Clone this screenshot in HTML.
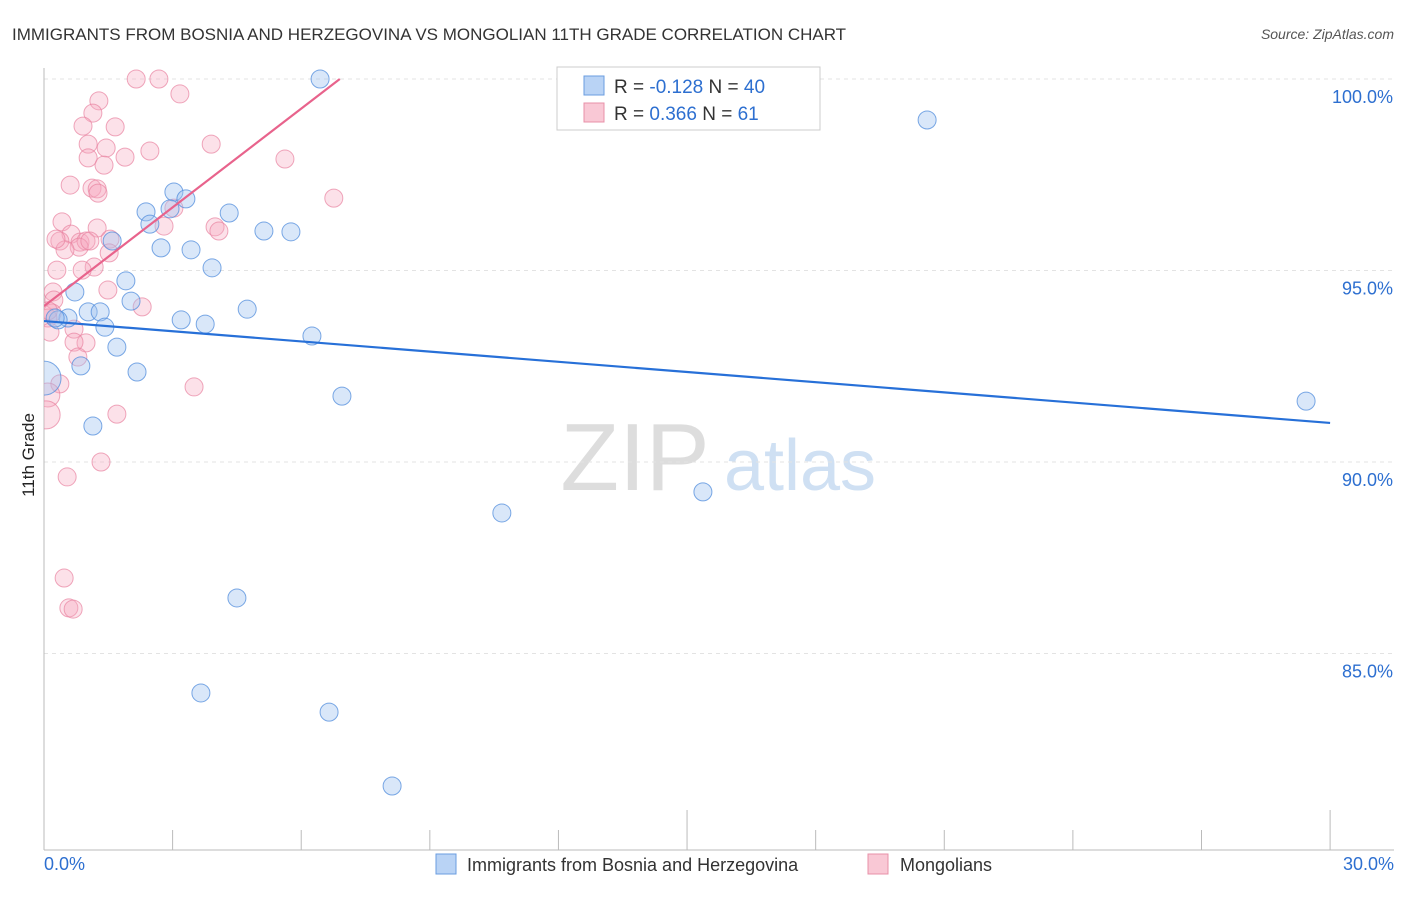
<!DOCTYPE html>
<html><head><meta charset="utf-8"><style>
body{margin:0;background:#fff;font-family:"Liberation Sans",sans-serif;}
svg text{font-family:"Liberation Sans",sans-serif;}
</style></head><body>
<svg id="c" width="1406" height="892">
<defs><clipPath id="pc"><rect x="44" y="60" width="1362" height="790"/></clipPath></defs>
<text x="12" y="40" font-size="17" fill="#333">IMMIGRANTS FROM BOSNIA AND HERZEGOVINA VS MONGOLIAN 11TH GRADE CORRELATION CHART</text>
<text x="1394" y="39" font-size="14" fill="#555" font-style="italic" text-anchor="end">Source: ZipAtlas.com</text>
<text x="34" y="455" font-size="17" fill="#222" text-anchor="middle" transform="rotate(-90 34 455)">11th Grade</text>
<g>
<text x="635" y="490" font-size="96" fill="#ddd" text-anchor="middle" font-family="Liberation Serif">ZIP</text>
<text x="800" y="490" font-size="72" fill="#cfe0f3" text-anchor="middle">atlas</text>
</g>
<g id="grid"></g>
<g id="axes"></g>
<g id="marks" clip-path="url(#pc)"></g>
<g>
<rect x="557" y="67" width="263" height="63" fill="#fff" stroke="#ccc"/>
<rect x="584" y="76" width="20" height="19" fill="#b9d3f5" stroke="#6a9de0"/>
<text x="614" y="93" font-size="19" fill="#333">R = <tspan fill="#2d6fd0">-0.128</tspan>   N = <tspan fill="#2d6fd0">40</tspan></text>
<rect x="584" y="103" width="20" height="19" fill="#f9c8d5" stroke="#e890a8"/>
<text x="614" y="120" font-size="19" fill="#333">R =  <tspan fill="#2d6fd0">0.366</tspan>   N =  <tspan fill="#2d6fd0">61</tspan></text>
</g>
<g>
<rect x="436" y="854" width="20" height="20" fill="#b9d3f5" stroke="#6a9de0"/>
<text x="467" y="871" font-size="18" fill="#333">Immigrants from Bosnia and Herzegovina</text>
<rect x="868" y="854" width="20" height="20" fill="#f9c8d5" stroke="#e890a8"/>
<text x="900" y="871" font-size="18" fill="#333">Mongolians</text>
</g>
</svg>
<script>
const yTicks=[100,95,90,85];
const yTickLabels=["100.0%","95.0%","90.0%","85.0%"];
const xTickVals=[0,3,6,9,12,15,18,21,24,27,30];
const xEndLabels=["0.0%","30.0%"];
const blueX=[6.44,20.60,3.03,2.38,2.94,3.31,4.32,2.47,5.13,5.76,2.73,3.43,1.59,3.92,1.91,0.72,2.03,4.74,1.03,1.31,0.56,0.33,3.20,3.76,1.42,6.25,1.70,0.86,2.17,6.95,29.44,1.14,0.0,15.37,10.68,4.50,3.66,6.65,8.12,0.26];
const blueY=[100.0,98.93,97.05,96.53,96.61,96.87,96.50,96.21,96.03,96.01,95.59,95.54,95.77,95.07,94.73,94.44,94.20,93.99,93.92,93.92,93.76,93.71,93.71,93.60,93.52,93.29,93.00,92.51,92.35,91.72,91.59,90.94,92.19,89.22,88.67,86.45,83.97,83.47,81.54,93.76];
const blueR=[9,9,9,9,9,9,9,9,9,9,9,9,9,9,9,9,9,9,9,9,9,9,9,9,9,9,9,9,9,9,9,9,17,9,9,9,9,9,9,9];
const pinkX=[2.15,2.68,3.17,1.28,1.14,0.91,1.66,1.03,1.45,2.47,3.90,1.03,1.89,1.40,5.62,0.61,1.12,1.24,1.26,6.76,3.03,0.42,1.24,2.80,3.99,4.08,0.63,0.37,0.84,0.98,0.82,1.07,1.54,0.49,1.52,1.17,0.30,0.89,1.49,0.21,0.23,2.29,0.19,0.09,0.70,0.14,0.98,0.70,0.79,3.50,0.37,0.09,1.70,0.05,1.33,0.54,0.47,0.58,0.68,0.28,0.10];
const pinkY=[100,100,99.61,99.43,99.11,98.77,98.75,98.30,98.20,98.12,98.30,97.94,97.96,97.75,97.91,97.23,97.15,97.13,97.02,96.89,96.63,96.27,96.11,96.16,96.14,96.03,95.95,95.77,95.74,95.77,95.61,95.77,95.82,95.54,95.46,95.09,95.01,95.01,94.49,94.44,94.23,94.05,93.89,93.76,93.47,93.39,93.11,93.13,92.74,91.96,92.04,91.75,91.25,91.23,90.00,89.61,86.97,86.19,86.16,95.82,93.95];
const pinkR=[9,9,9,9,9,9,9,9,9,9,9,9,9,9,9,9,9,9,9,9,9,9,9,9,9,9,9,9,9,9,9,9,9,9,9,9,9,9,9,9,9,9,9,9,9,9,9,9,9,9,9,12,9,14,9,9,9,9,9,9,9];
const blueTrendX=[0,30];
const blueTrendY=[93.68,91.02];
const pinkTrendX=[0,6.9];
const pinkTrendY=[94.07,100];
const NS="http://www.w3.org/2000/svg";
function xs(v){return 44+v*42.87;}
function ys(v){return 79+(100-v)*38.3;}
function mk(t,a,p){const e=document.createElementNS(NS,t);for(const k in a)e.setAttribute(k,a[k]);p.appendChild(e);return e;}
const grid=document.getElementById('grid'),axes=document.getElementById('axes'),marks=document.getElementById('marks');
yTicks.forEach((v,i)=>{
 const l=mk('line',{x1:44,x2:1394,y1:ys(v),y2:ys(v),stroke:'#e3e3e3','stroke-dasharray':'4,4'},grid);
 
 
 const t=mk('text',{x:1393,y:ys(v)+24,'font-size':18,fill:'#2d6fd0','text-anchor':'end'},axes);
 t.textContent=yTickLabels[i];
 
 
});
const ya=mk('line',{x1:44,x2:44,y1:68,y2:850,stroke:'#bbb'},axes);


const xa=mk('line',{x1:44,x2:1394,y1:850,y2:850,stroke:'#bbb'},axes);


xTickVals.forEach((v,i)=>{
 const long=(v===15||v===30);
 const t=mk('line',{x1:xs(v),x2:xs(v),y1:long?810:830,y2:850,stroke:'#bbb'},axes);
 
 
});
[[0,'start',44],[30,'end',1394]].forEach((d,i)=>{
 const t=mk('text',{x:d[2],y:870,'font-size':18,fill:'#2d6fd0','text-anchor':d[1]},axes);
 t.textContent=xEndLabels[i];
 
 
});
pinkX.forEach((v,i)=>{
 const c=mk('circle',{cx:xs(v),cy:ys(pinkY[i]),r:pinkR[i],fill:'rgba(246,170,192,0.35)',stroke:'rgba(232,130,160,0.7)','stroke-width':1},marks);
 
 
});
blueX.forEach((v,i)=>{
 const c=mk('circle',{cx:xs(v),cy:ys(blueY[i]),r:blueR[i],fill:'rgba(160,196,240,0.4)',stroke:'rgba(80,140,220,0.75)','stroke-width':1},marks);
 
 
});
const bl=mk('line',{x1:xs(blueTrendX[0]),y1:ys(blueTrendY[0]),x2:xs(blueTrendX[1]),y2:ys(blueTrendY[1]),stroke:'#2770d8','stroke-width':2.2},marks);


const pl=mk('line',{x1:xs(pinkTrendX[0]),y1:ys(pinkTrendY[0]),x2:xs(pinkTrendX[1]),y2:ys(pinkTrendY[1]),stroke:'#e8638c','stroke-width':2.2},marks);


</script>
</body></html>
